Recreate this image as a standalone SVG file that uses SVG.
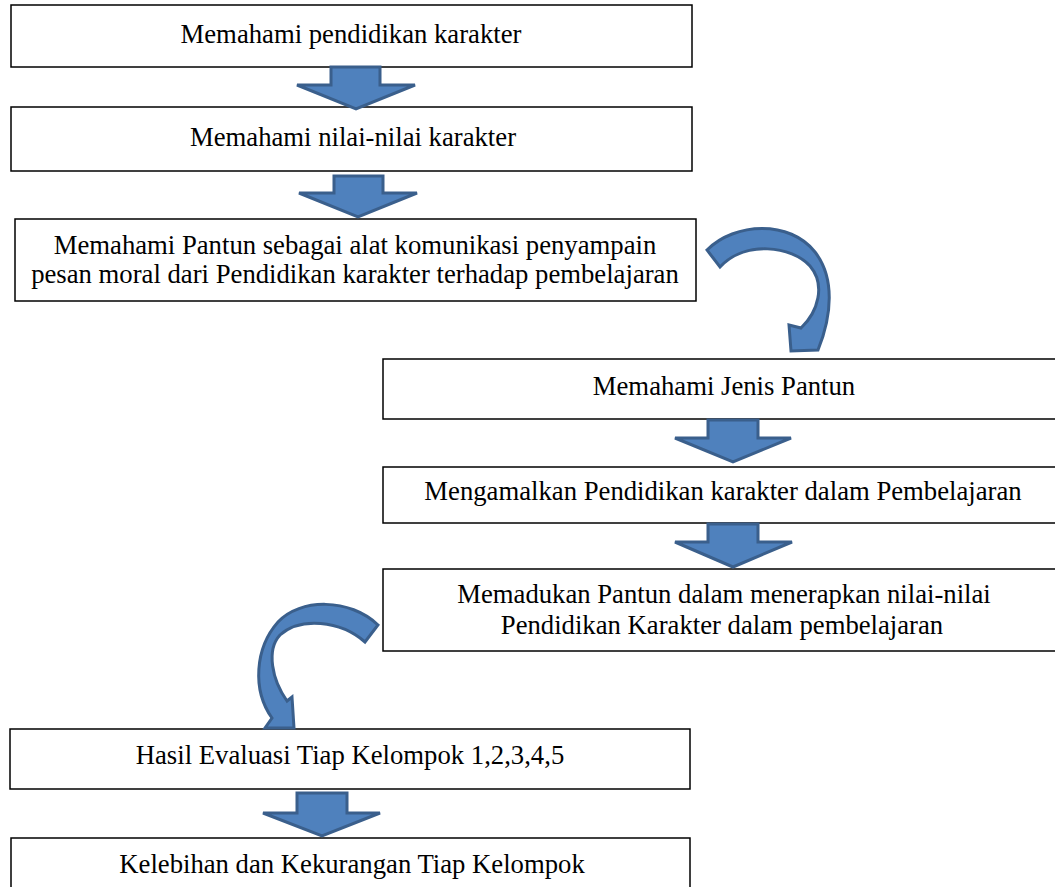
<svg xmlns="http://www.w3.org/2000/svg" width="1055" height="887" viewBox="0 0 1055 887">
<style>
.box{fill:#fff;stroke:#000;stroke-width:1.5}
.t{font-family:"Liberation Serif","Times New Roman",serif;font-size:26.7px;fill:#000;text-anchor:middle}
.arr{fill:#4F81BD;stroke:#3A5F8C;stroke-width:3;stroke-linejoin:miter}
</style>
<rect width="1055" height="887" fill="#fff"/>
<g id="n1"><rect class="box" x="11" y="5" width="681" height="62"/><text class="t" x="351" y="43">Memahami pendidikan karakter</text></g>
<g id="n2"><rect class="box" x="11" y="107" width="681" height="64"/><text class="t" x="353" y="146">Memahami nilai-nilai karakter</text></g>
<g id="n3"><rect class="box" x="15" y="219" width="681" height="82"/><text class="t" x="355" y="254">Memahami Pantun sebagai alat komunikasi penyampain</text><text class="t" x="355" y="283">pesan moral dari Pendidikan karakter terhadap pembelajaran</text></g>
<g id="n4"><rect class="box" x="383" y="359" width="682" height="60"/><text class="t" x="724" y="395">Memahami Jenis Pantun</text></g>
<g id="n5"><rect class="box" x="383" y="467" width="682" height="56"/><text class="t" x="723" y="500">Mengamalkan Pendidikan karakter dalam Pembelajaran</text></g>
<g id="n6"><rect class="box" x="383" y="569" width="682" height="82"/><text class="t" x="724" y="603">Memadukan Pantun dalam menerapkan nilai-nilai</text><text class="t" x="722" y="634">Pendidikan Karakter dalam pembelajaran</text></g>
<g id="n7"><rect class="box" x="10" y="729" width="680" height="60"/><text class="t" x="350" y="764">Hasil Evaluasi Tiap Kelompok 1,2,3,4,5</text></g>
<g id="n8"><rect class="box" x="11" y="838" width="679" height="60"/><text class="t" x="352" y="873">Kelebihan dan Kekurangan Tiap Kelompok</text></g>
<g id="connectors">
<polygon class="arr" points="331,67 380,67 380,85 415,85 356,109 297,85 331,85"/>
<polygon class="arr" points="334,176 383,176 383,193 417,193 358,217 299,193 334,193"/>
<polygon class="arr" points="708,420 758,420 758,438 791,438 733,462 675,438 708,438"/>
<polygon class="arr" points="708,524 758,524 758,542 792,542 733,567 675,542 708,542"/>
<polygon class="arr" points="297,793 347,793 347,813 380,813 322,836 263,813 297,813"/>
<path class="arr" d="M707,250 C735,222 790,220 815,252 C835,278 832,315 818,350 L791,351 L789,325 L801,328 C818,312 826,285 810,266 C792,246 745,240 720,267 Z"/>
<path class="arr" d="M378,625 C350,598 300,598 278,622 C255,648 252,690 272,718 L265,728 L294,728 L292,697 L287,701 C272,680 266,650 280,635 C300,617 340,620 365,642 Z"/>
</g>
</svg>
